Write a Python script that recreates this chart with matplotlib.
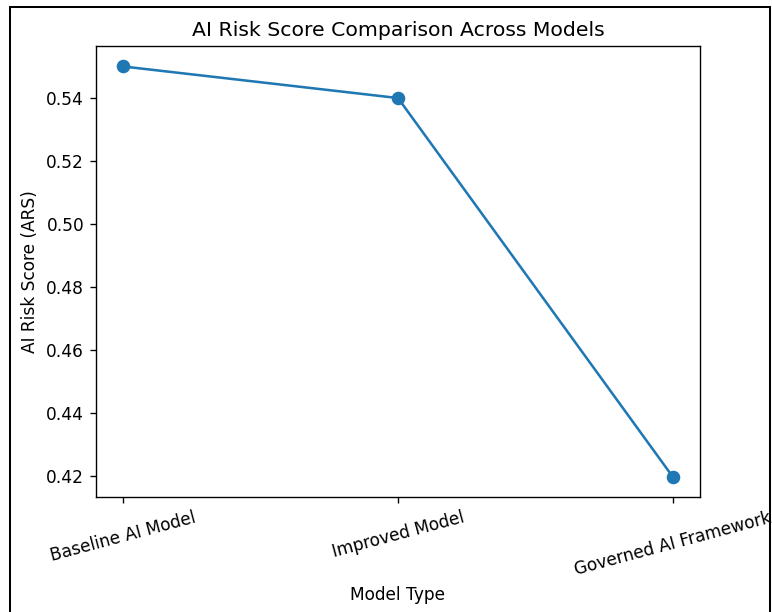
import matplotlib.pyplot as plt
from matplotlib.patches import Rectangle

models = ["Baseline AI Model", "Improved Model", "Governed AI Framework"]
ars = [0.55, 0.54, 0.42]

dpi = 122
fig = plt.figure(figsize=(772/dpi, 612/dpi), dpi=dpi)
ax = fig.add_axes([96/772, 1-497/612, (700-96)/772, (497-46)/612])

ax.plot(models, ars, marker="o", markersize=7)
ax.set_title("AI Risk Score Comparison Across Models")
ax.set_xlabel("Model Type")
ax.set_ylabel("AI Risk Score (ARS)")
plt.setp(ax.get_xticklabels(), rotation=15)

# frame around the screenshot
fig.patches.append(Rectangle((10/772, -0.05), (770-10)/772, 1-7/612+0.05,
                             transform=fig.transFigure, fill=False,
                             edgecolor="black", linewidth=1.2))

fig.savefig("out.png", dpi=dpi)
